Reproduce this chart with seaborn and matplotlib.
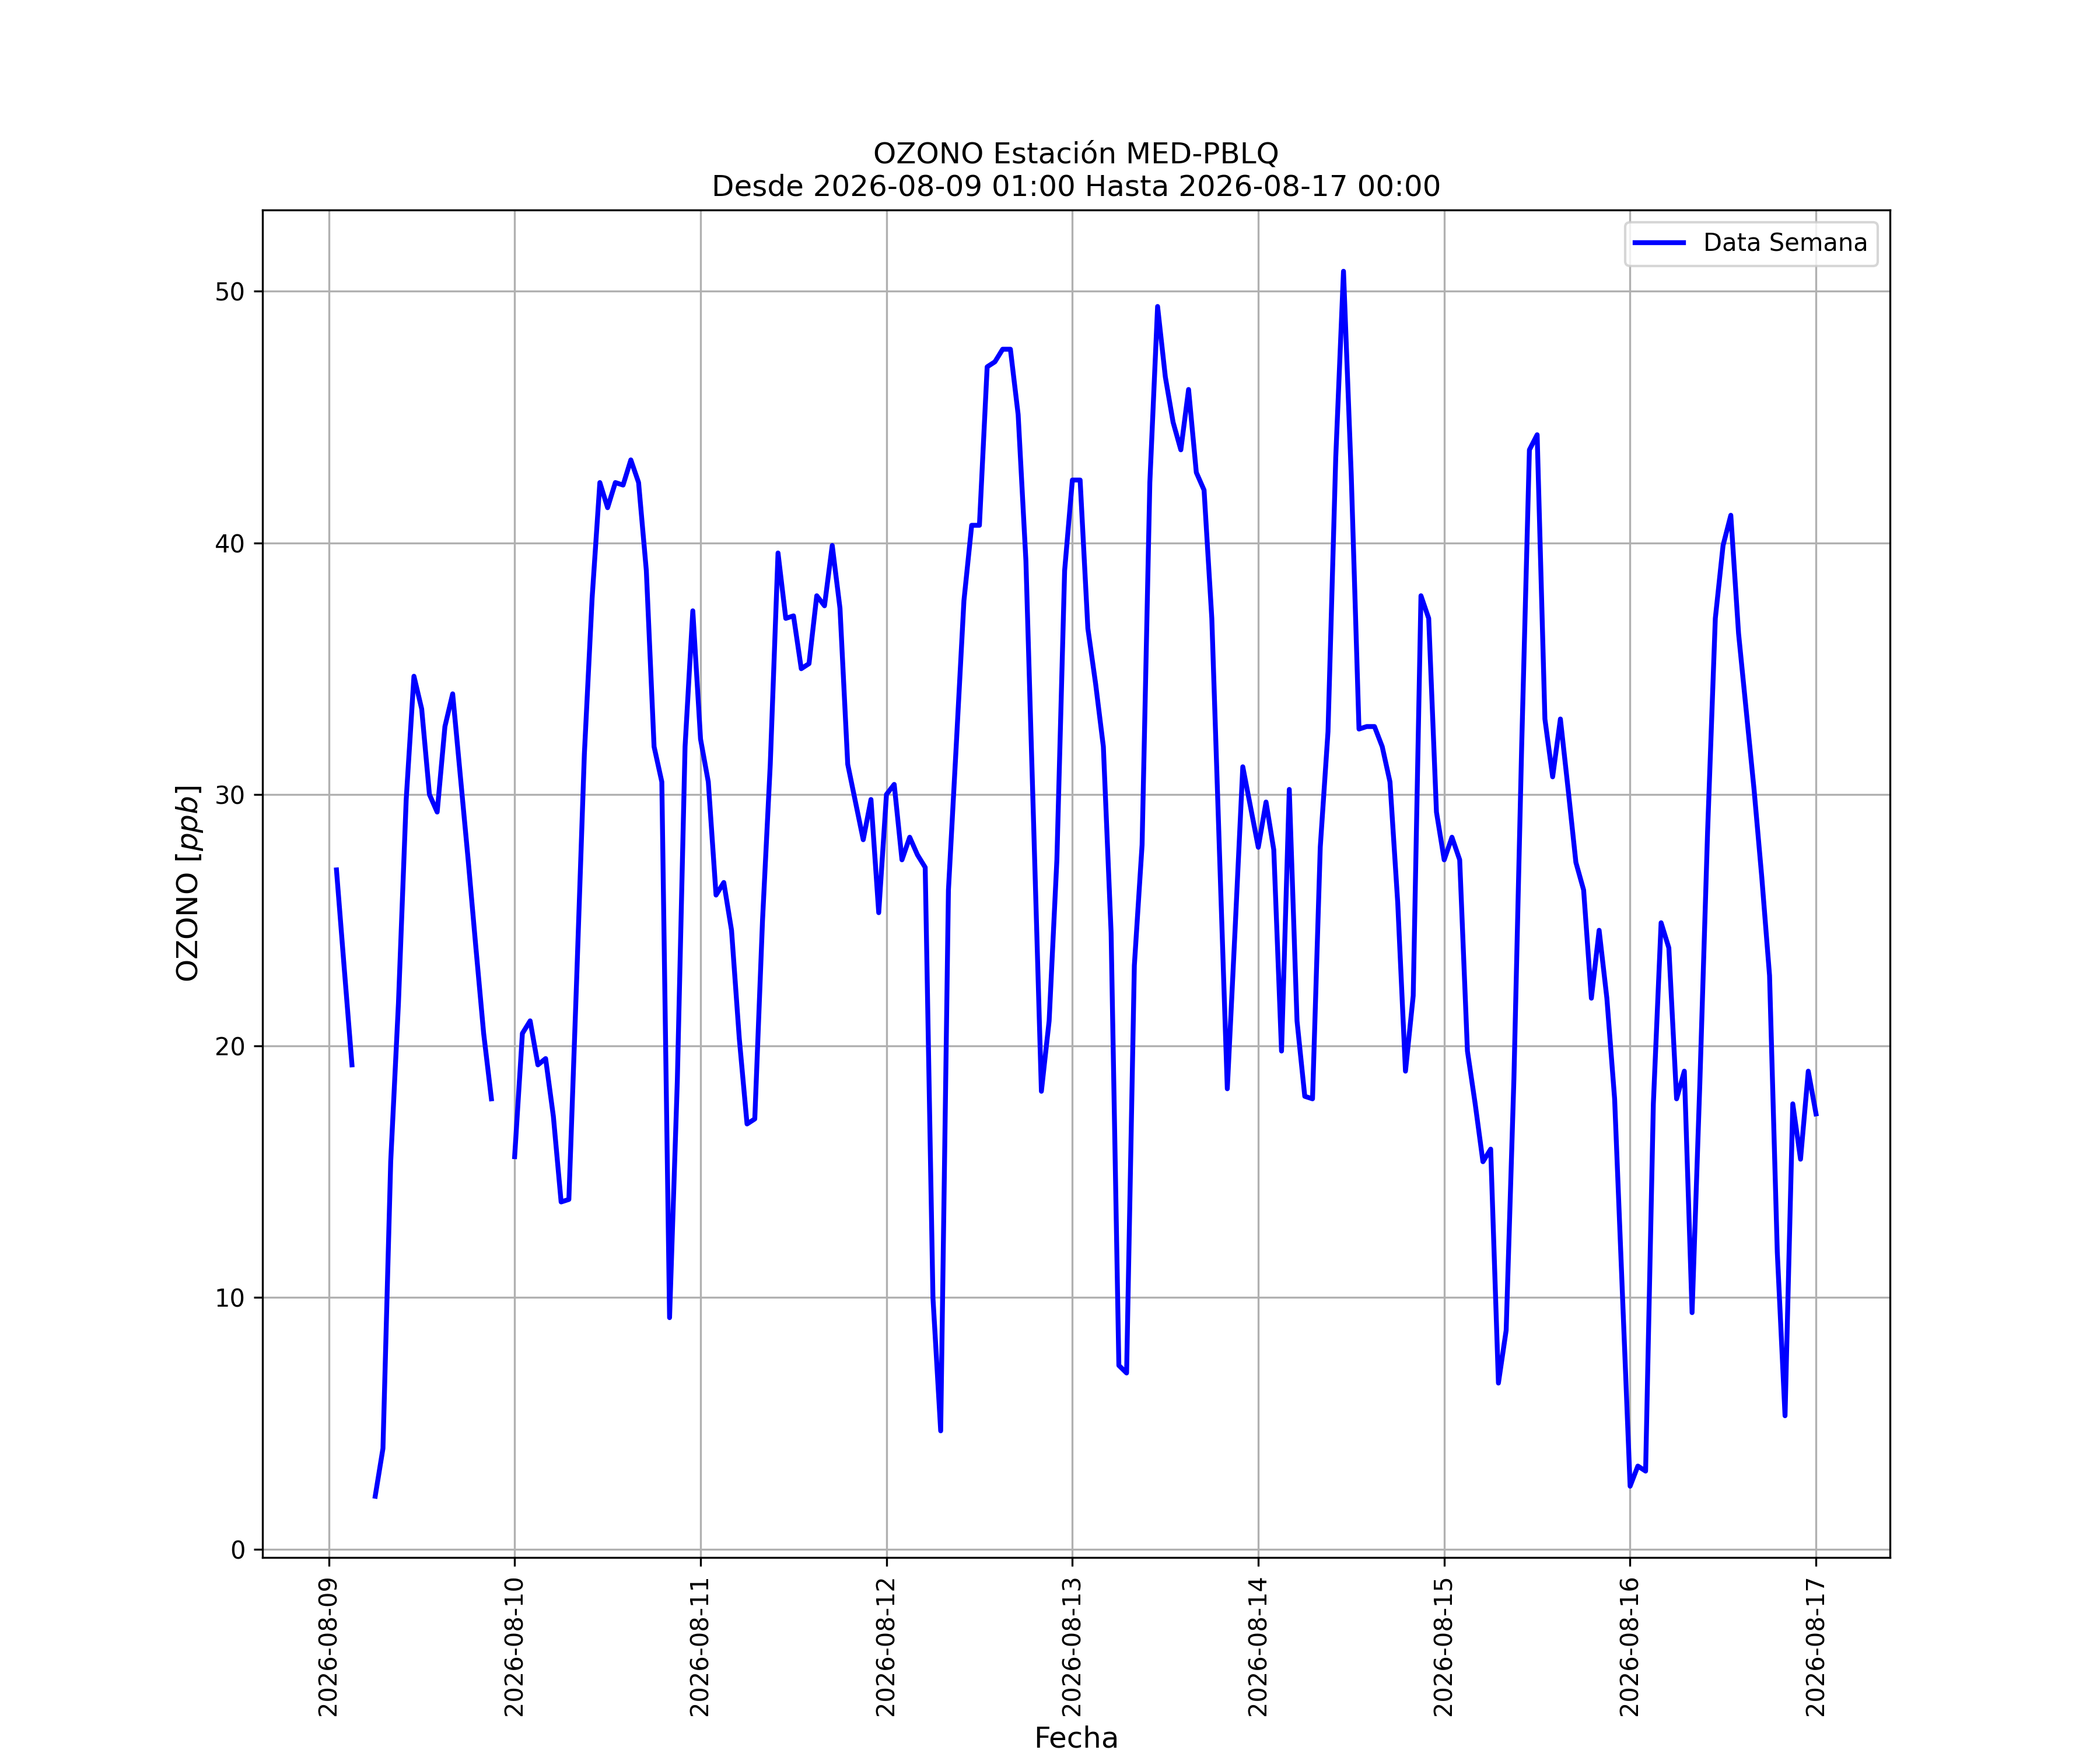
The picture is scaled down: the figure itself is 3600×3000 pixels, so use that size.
import numpy as np
import pandas as pd
import matplotlib
matplotlib.use("Agg")
import matplotlib.pyplot as plt
import matplotlib.dates as mdates
import seaborn as sns

# hourly ozone readings, 2026-08-09 01:00 .. 2026-08-17 00:00 (NaN = missing hour)
start = "2026-08-09 01:00"
end = "2026-08-17 00:00"
ozono = [
    # 09 01h-23h
    27.0, 23.1, 19.25, np.nan, np.nan, 2.1, 4.0, 15.4, 21.7, 29.8, 34.7, 33.4,
    30.0, 29.3, 32.7, 34.0, 30.7, 27.4, 23.9, 20.5, 17.9, np.nan, np.nan,
    # 10
    15.6, 20.5, 21.0, 19.25, 19.5, 17.2, 13.8, 13.9, 22.6, 31.6, 37.8, 42.4,
    41.4, 42.4, 42.3, 43.3, 42.4, 38.9, 31.9, 30.5, 9.2, 18.6, 31.9, 37.3,
    # 11
    32.2, 30.5, 26.0, 26.5, 24.6, 20.3, 16.9, 17.1, 25.0, 31.2, 39.6, 37.0,
    37.1, 35.0, 35.2, 37.9, 37.5, 39.9, 37.4, 31.2, 29.7, 28.2, 29.8, 25.3,
    # 12
    30.0, 30.4, 27.4, 28.3, 27.6, 27.1, 10.0, 4.7, 26.2, 31.9, 37.7, 40.7,
    40.7, 47.0, 47.2, 47.7, 47.7, 45.1, 39.3, 28.8, 18.2, 21.0, 27.4, 38.9,
    # 13
    42.5, 42.5, 36.6, 34.4, 31.9, 24.5, 7.3, 7.0, 23.2, 28.0, 42.4, 49.4,
    46.6, 44.8, 43.7, 46.1, 42.8, 42.1, 37.0, 27.6, 18.3, 24.6, 31.1, 29.5,
    # 14
    27.9, 29.7, 27.8, 19.8, 30.2, 21.0, 18.0, 17.9, 27.9, 32.5, 43.4, 50.8,
    42.7, 32.6, 32.7, 32.7, 31.9, 30.5, 25.7, 19.0, 22.0, 37.9, 37.0, 29.3,
    # 15
    27.4, 28.3, 27.4, 19.8, 17.7, 15.4, 15.9, 6.6, 8.7, 18.7, 31.9, 43.7,
    44.3, 33.0, 30.7, 33.0, 30.2, 27.3, 26.2, 21.9, 24.6, 21.9, 17.9, 10.2,
    # 16
    2.5, 3.3, 3.1, 17.7, 24.9, 23.9, 17.9, 19.0, 9.4, 18.5, 28.5, 37.0,
    39.9, 41.1, 36.4, 33.3, 30.2, 26.7, 22.8, 11.8, 5.3, 17.7, 15.5, 19.0,
    # 17 00h
    17.3,
]

fechas = pd.date_range(start, end, freq="h")
df = pd.DataFrame({"Fecha": fechas, "OZONO": ozono})
# seaborn drops NaN, so number the unbroken runs to keep the gaps
df["tramo"] = df["OZONO"].isna().cumsum()
df = df.dropna()

fig, ax = plt.subplots(figsize=(12, 10), dpi=300)
sns.lineplot(data=df, x="Fecha", y="OZONO", units="tramo", estimator=None,
             color="blue", linewidth=2, label="Data Semana", ax=ax)

ax.set_title("OZONO Estación MED-PBLQ\nDesde " + start + " Hasta " + end, fontsize=12)
ax.set_xlabel("Fecha", fontsize=12)
ax.set_ylabel("OZONO $[ppb]$", fontsize=12)
ax.xaxis.set_major_locator(mdates.DayLocator())
ax.xaxis.set_major_formatter(mdates.DateFormatter("%Y-%m-%d"))
plt.setp(ax.get_xticklabels(), rotation=90)
ax.grid(True)

handles, labels = ax.get_legend_handles_labels()
ax.legend(handles[:1], labels[:1], loc="upper right")

fig.savefig("out.png", dpi=300)
